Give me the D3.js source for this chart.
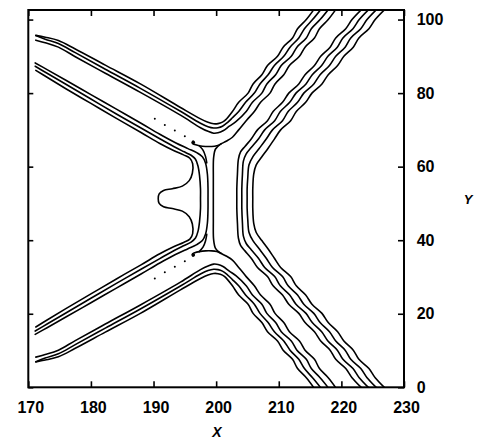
<!DOCTYPE html>
<html><head><meta charset="utf-8">
<script src="https://cdn.jsdelivr.net/npm/d3@7"></script>
<style>body{margin:0;background:#fff} svg{display:block}</style>
</head><body>
<svg id="c" width="483" height="443"></svg>
<script>
const xTicks=[170,180,190,200,210,220,230];
const yTicks=[0,20,40,60,80,100];
const xTitle="X", yTitle="Y";

const A1=[[171.2,95.7],[172.7,95.2],[174.8,94.3],[177.5,92.0],[182.3,87.6],[187.9,82.5],[194.3,76.1],[197.5,73.0],[198.7,72.05],[199.6,71.65],[200.3,71.7],[201.0,72.1],[201.5,72.7],[202.6,75],[203.6,77.5],[205.1,80],[205.9,82.5],[207.3,85],[208.2,87.5],[209.8,90],[210.7,92.5],[212.2,95],[213.0,97.5],[214.4,100],[215.6,102.7]];
const A2=[[171.2,95.65],[172.7,94.65],[174.8,93.5],[177.5,91.0],[182.3,86.5],[187.9,81.3],[194.3,75.05],[197.5,71.8],[198.7,70.85],[199.6,70.5],[200.3,70.6],[201.0,71.0],[201.8,72.0],[202.6,73.3],[203.6,75],[204.7,77.5],[206.1,80],[207.0,82.5],[208.3,85],[209.3,87.5],[210.8,90],[211.8,92.5],[213.2,95],[214.1,97.5],[215.4,100],[216.7,102.7]];
const A3=[[171.2,94.4],[172.7,93.7],[174.8,92.5],[177.5,89.9],[182.3,85.4],[187.9,80.2],[194.3,74.0],[197.5,70.6],[198.7,69.6],[199.6,69.1],[200.3,69.2],[201.1,69.75],[202.1,71.0],[203.2,72.3],[204.8,75],[205.8,77.5],[207.3,80],[208.1,82.5],[209.5,85],[210.4,87.5],[212.0,90],[212.9,92.5],[214.4,95],[215.2,97.5],[216.6,100],[217.9,102.7]];
const A4=[[219.1,102.7],[217.9,100],[216.5,97.5],[215.7,95],[214.2,92.5],[213.3,90],[211.7,87.5],[210.8,85],[209.4,82.5],[208.6,80],[207.1,77.5],[206.1,75],[204.8,72.5],[203.6,70],[202.6,68],[201.6,66.9],[200.6,66.0],[199.9,64.8],[199.6,62.5],[199.55,57],[199.55,51.3],[199.55,45.6],[199.6,40.1],[199.9,37.8],[200.6,36.6],[201.6,35.7],[202.6,34.6],[203.6,32.6],[204.8,30.1],[206.1,27.6],[207.1,25.1],[208.6,22.6],[209.4,20.1],[210.8,17.6],[211.7,15.1],[213.3,12.6],[214.2,10.1],[215.7,7.6],[216.5,5.1],[217.9,2.6],[219.1,-0.1]];
const B1=[[171.2,8.2],[172.7,8.9],[174.8,10.1],[177.5,12.7],[182.3,17.2],[187.9,22.4],[194.3,28.6],[197.5,32.0],[198.7,33.0],[199.6,33.5],[200.3,33.4],[201.1,32.85],[202.1,31.6],[203.2,30.3],[204.8,27.6],[205.8,25.1],[207.3,22.6],[208.1,20.1],[209.5,17.6],[210.4,15.1],[212.0,12.6],[212.9,10.1],[214.4,7.6],[215.2,5.1],[216.6,2.6],[217.9,-0.1]];
const B2=[[171.2,6.95],[172.7,7.95],[174.8,9.1],[177.5,11.6],[182.3,16.1],[187.9,21.3],[194.3,27.55],[197.5,30.8],[198.7,31.75],[199.6,32.1],[200.3,32.0],[201.0,31.6],[201.8,30.6],[202.6,29.3],[203.6,27.6],[204.7,25.1],[206.1,22.6],[207.0,20.1],[208.3,17.6],[209.3,15.1],[210.8,12.6],[211.8,10.1],[213.2,7.6],[214.1,5.1],[215.4,2.6],[216.7,-0.1]];
const B3=[[171.2,6.9],[172.7,7.4],[174.8,8.3],[177.5,10.6],[182.3,15.0],[187.9,20.1],[194.3,26.5],[197.5,29.6],[198.7,30.55],[199.6,30.95],[200.3,30.9],[201.0,30.5],[201.5,29.9],[202.6,27.6],[203.6,25.1],[205.1,22.6],[205.9,20.1],[207.3,17.6],[208.2,15.1],[209.8,12.6],[210.7,10.1],[212.2,7.6],[213.0,5.1],[214.4,2.6],[215.6,-0.1]];
const C1=[[223.2,102.7],[221.7,100],[220.7,97.5],[219.1,95],[218.2,92.5],[216.7,90],[215.7,87.5],[214.2,85],[213.2,82.5],[211.6,80],[210.6,77.5],[209.1,75],[208.2,72.5],[206.6,70],[205.6,67.5],[204.6,65.5],[203.9,64.0],[203.55,62.0],[203.4,58],[203.3,54],[203.3,51.3],[203.3,48.6],[203.4,44.6],[203.55,40.6],[203.9,38.6],[204.6,37.1],[205.6,35.1],[206.6,32.6],[208.2,30.1],[209.1,27.6],[210.6,25.1],[211.6,22.6],[213.2,20.1],[214.2,17.6],[215.7,15.1],[216.7,12.6],[218.2,10.1],[219.1,7.6],[220.7,5.1],[221.7,2.6],[223.2,-0.1]];
const C2=[[224.35,102.7],[222.85,100],[221.85,97.5],[220.25,95],[219.35,92.5],[217.85,90],[216.85,87.5],[215.35,85],[214.35,82.5],[212.75,80],[211.75,77.5],[210.25,75],[209.35,72.5],[207.75,70],[206.75,67.5],[205.6,65.2],[204.8,63.5],[204.35,61.5],[204.2,58],[204.1,54],[204.1,51.3],[204.1,48.6],[204.2,44.6],[204.35,41.1],[204.8,39.1],[205.6,37.4],[206.75,35.1],[207.75,32.6],[209.35,30.1],[210.25,27.6],[211.75,25.1],[212.75,22.6],[214.35,20.1],[215.35,17.6],[216.85,15.1],[217.85,12.6],[219.35,10.1],[220.25,7.6],[221.85,5.1],[222.85,2.6],[224.35,-0.1]];
const C3=[[225.6,102.7],[224.1,100],[223.1,97.5],[221.5,95],[220.6,92.5],[219.1,90],[218.1,87.5],[216.6,85],[215.6,82.5],[214.0,80],[213.0,77.5],[211.5,75],[210.6,72.5],[209.0,70],[208.0,67.5],[206.9,65.0],[205.9,62.8],[205.25,60.5],[205.05,57],[204.95,54],[204.95,51.3],[204.95,48.6],[205.05,45.6],[205.25,42.1],[205.9,39.8],[206.9,37.6],[208.0,35.1],[209.0,32.6],[210.6,30.1],[211.5,27.6],[213.0,25.1],[214.0,22.6],[215.6,20.1],[216.6,17.6],[218.1,15.1],[219.1,12.6],[220.6,10.1],[221.5,7.6],[223.1,5.1],[224.1,2.6],[225.6,-0.1]];
const C4=[[226.9,102.7],[225.4,100],[224.4,97.5],[222.8,95],[221.9,92.5],[220.4,90],[219.4,87.5],[217.9,85],[216.9,82.5],[215.3,80],[214.3,77.5],[212.8,75],[211.9,72.5],[210.3,70],[209.3,67.5],[208.3,65.0],[207.3,62.7],[206.4,60.5],[206.0,58],[205.85,54],[205.85,51.3],[205.85,48.6],[206.0,44.6],[206.4,42.1],[207.3,39.9],[208.3,37.6],[209.3,35.1],[210.3,32.6],[211.9,30.1],[212.8,27.6],[214.3,25.1],[215.3,22.6],[216.9,20.1],[217.9,17.6],[219.4,15.1],[220.4,12.6],[221.9,10.1],[222.8,7.6],[224.4,5.1],[225.4,2.6],[226.9,-0.1]];
const D1=[[171.1,88.2],[173,86.4],[176,83.5],[180,79.6],[184,75.7],[188,71.8],[191,68.8],[193.5,66.5],[195.5,64.9],[196.9,63.8],[197.8,62.7],[198.3,61.0],[198.6,58],[198.7,54],[198.7,51.3],[198.7,48.6],[198.6,44.6],[198.3,41.6],[197.8,39.9],[196.9,38.8],[195.5,37.7],[193.5,36.1],[191,33.8],[188,30.8],[184,26.9],[180,23.0],[176,19.1],[173,16.2],[171.1,14.4]];
const D2=[[171.1,87.3],[173,85.4],[176,82.4],[180,78.4],[184,74.4],[188,70.5],[191,67.6],[193.3,65.4],[194.8,64.1],[196.0,63.1],[196.7,62.0],[197.1,60.2],[197.35,57.5],[197.5,54],[197.5,51.3],[197.5,48.6],[197.35,45.1],[197.1,42.4],[196.7,40.6],[196.0,39.5],[194.8,38.5],[193.3,37.2],[191,35.0],[188,32.1],[184,28.2],[180,24.2],[176,20.2],[173,17.2],[171.1,15.3]];
const D3=[[171.2,86.2],[173,84.3],[176,81.2],[180,77.2],[184,73.2],[188,69.3],[191,66.3],[193.2,64.4],[194.8,63.2],[195.8,62.3],[196.25,60.8],[196.2,58.2],[195.7,56.2],[194.6,54.7],[193.0,54.0],[191.6,53.5],[190.9,52.6],[190.75,51.3],[190.9,50.0],[191.6,49.1],[193.0,48.6],[194.6,47.9],[195.7,46.4],[196.2,44.4],[196.25,41.8],[195.8,40.3],[194.8,39.4],[193.2,38.2],[191,36.3],[188,33.3],[184,29.4],[180,25.4],[176,21.4],[173,18.3],[171.2,16.4]];
const spikeTop=[[196.3,66.9],[196.2,66.4],[196.6,66.0],[197.3,65.7],[198.3,65.5],[199.3,65.5],[200.1,65.7],[200.8,66.2]];
const spikeTopBranch=[[197.3,65.7],[197.9,64.5],[198.3,62.8],[198.5,61]];
const spikeBottom=[[196.3,35.7],[196.2,36.2],[196.6,36.6],[197.3,36.9],[198.3,37.1],[199.3,37.1],[200.1,36.9],[200.8,36.4]];
const spikeBottomBranch=[[197.3,36.9],[197.9,38.1],[198.3,39.8],[198.5,41.6]];
const spikeTips=[[196.35,66.6],[196.35,36.0]];
const crestDots=[[190.2,73.0],[191.8,71.3],[193.4,69.8],[195.0,68.3],[190.2,29.6],[191.8,31.3],[193.4,32.8],[195.0,34.3]];

const contours=[A1,A2,A3,A4,B1,B2,B3,C1,C2,C3,C4,D1,D2,D3,spikeTop,spikeTopBranch,spikeBottom,spikeBottomBranch];

const svg=d3.select("#c");
svg.append("rect").attr("width",483).attr("height",443).attr("fill","#fff");
const L=28.3,R=404,T=10,Bt=387.3;
const x=d3.scaleLinear().domain([170,230]).range([L,R]);
const y=d3.scaleLinear().domain([0,102.6]).range([Bt,T]);

svg.append("clipPath").attr("id","clip").append("rect")
  .attr("x",L).attr("y",T).attr("width",R-L).attr("height",Bt-T);

const line=d3.line().x(d=>x(d[0])).y(d=>y(d[1])).curve(d3.curveCatmullRom.alpha(0.5));
const g=svg.append("g").attr("clip-path","url(#clip)");
g.selectAll("path.c").data(contours).join("path").attr("class","c")
  .attr("d",line).attr("fill","none").attr("stroke","#000")
  .attr("stroke-width",1.6).attr("stroke-linejoin","round").attr("stroke-linecap","round");
g.selectAll("circle.tip").data(spikeTips).join("circle").attr("class","tip")
  .attr("cx",d=>x(d[0])).attr("cy",d=>y(d[1])).attr("r",1.8).attr("fill","#000");
g.selectAll("circle.dot").data(crestDots).join("circle").attr("class","dot")
  .attr("cx",d=>x(d[0])).attr("cy",d=>y(d[1])).attr("r",1.0).attr("fill","#000");

const font="'Liberation Sans', Arial, Helvetica, sans-serif";
function style(sel){
  sel.select(".domain").remove();
  sel.selectAll(".tick line").attr("stroke","#000").attr("stroke-width",1.6);
  sel.selectAll(".tick text").attr("fill","#000").style("font-family",font)
    .style("font-weight","bold").style("font-size","16px");
}
svg.append("g").attr("transform",`translate(0,${Bt})`)
  .call(d3.axisBottom(x).tickValues(xTicks).tickSizeInner(-6).tickSizeOuter(0).tickPadding(14).tickFormat(d3.format("d")))
  .call(style).call(s=>s.selectAll(".tick text").attr("dx",2));
svg.append("g").attr("transform",`translate(0,${T})`)
  .call(d3.axisTop(x).tickValues(xTicks).tickSizeInner(-6).tickSizeOuter(0).tickFormat(""))
  .call(style);
svg.append("g").attr("transform",`translate(${R},0)`)
  .call(d3.axisRight(y).tickValues(yTicks).tickSizeInner(-6).tickSizeOuter(0).tickPadding(12.7).tickFormat(d3.format("d")))
  .call(style);
svg.append("g").attr("transform",`translate(${L},0)`)
  .call(d3.axisLeft(y).tickValues(yTicks).tickSizeInner(-5).tickSizeOuter(0).tickFormat(""))
  .call(style);

svg.append("rect").attr("x",L).attr("y",T).attr("width",R-L).attr("height",Bt-T)
  .attr("fill","none").attr("stroke","#000").attr("stroke-width",2);

svg.append("text").attr("x",217).attr("y",437).attr("text-anchor","middle")
  .style("font-family",font).style("font-weight","bold").style("font-style","italic").style("font-size","14px")
  .text(xTitle);
svg.append("text").attr("x",468).attr("y",204).attr("text-anchor","middle")
  .style("font-family",font).style("font-weight","bold").style("font-style","italic").style("font-size","13px")
  .text(yTitle);
</script>
</body></html>
